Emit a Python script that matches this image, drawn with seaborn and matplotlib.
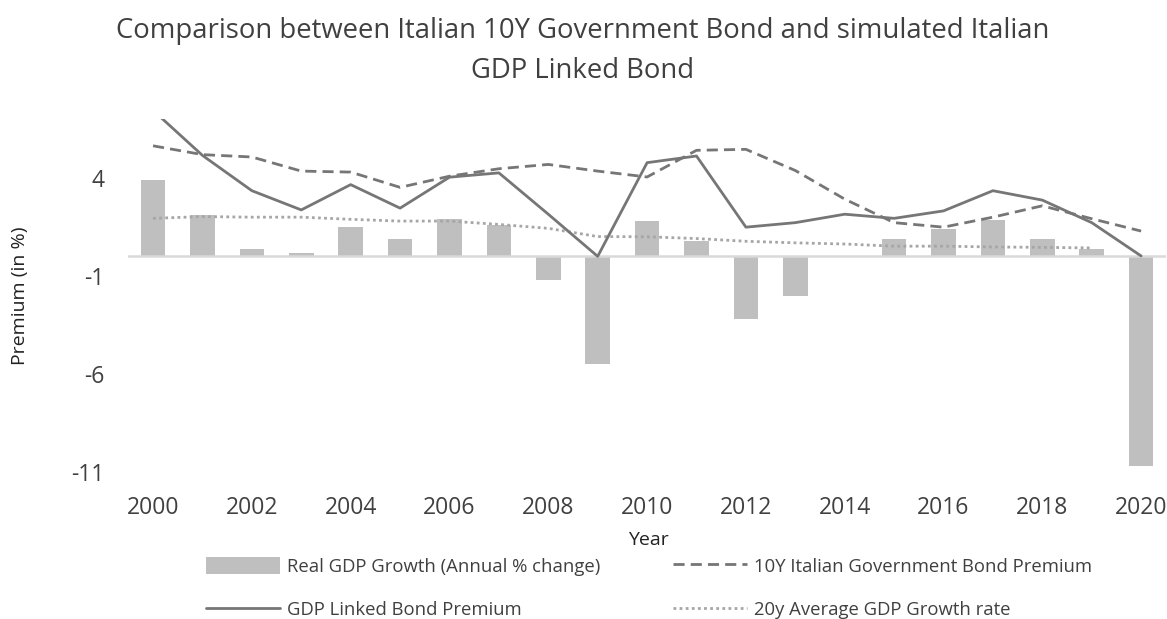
import numpy as np
import pandas as pd
import matplotlib
matplotlib.use("Agg")
import matplotlib.pyplot as plt
import seaborn as sns

# Data series (values in %)
years = list(range(2000, 2021))
real_gdp_growth = [3.9, 2.1, 0.4, 0.15, 1.5, 0.9, 1.9, 1.6, -1.2, -5.5, 1.8,
                   0.8, -3.2, -2.0, 0.0, 0.9, 1.4, 1.85, 0.9, 0.4, -10.7]
btp_10y_premium = [5.64, 5.19, 5.07, 4.35, 4.30, 3.52, 4.09, 4.47, 4.69, 4.35, 4.05,
                   5.41, 5.46, 4.38, 2.92, 1.72, 1.49, 2.00, 2.58, 1.92, 1.29]
gdp_linked_premium = [7.45, 5.15, 3.35, 2.37, 3.66, 2.46, 4.04, 4.26, 2.15, 0.0, 4.78,
                      5.12, 1.49, 1.72, 2.15, 1.94, 2.32, 3.35, 2.87, 1.72, 0.02]
avg_20y_growth = [1.94, 2.03, 2.00, 2.00, 1.89, 1.80, 1.80, 1.63, 1.43, 1.01, 1.00,
                  0.91, 0.77, 0.69, 0.63, 0.52, 0.52, 0.48, 0.46, 0.43, np.nan]
y_ticks = [4, -1, -6, -11]
x_ticks = list(range(2000, 2021, 2))

df = pd.DataFrame({
    "Year": years,
    "gdp": real_gdp_growth,
    "btp": btp_10y_premium,
    "linked": gdp_linked_premium,
    "avg": avg_20y_growth,
})

sns.set_theme(style="white")
plt.rcParams["font.family"] = ["Open Sans", "DejaVu Sans"]

fig = plt.figure(figsize=(11.67, 6.19), dpi=100)
ax = fig.add_axes([0.110, 0.2375, 0.889, 0.570])

bar_c = "#bfbfbf"
line_c = "#767676"
dot_c = "#a6a6a6"

sns.barplot(data=df, x="Year", y="gdp", native_scale=True, width=0.5,
            color=bar_c, saturation=1, ax=ax, label="Real GDP Growth (Annual % change)",
            linewidth=0, zorder=2)
sns.lineplot(data=df, x="Year", y="btp", ax=ax, color=line_c, lw=2.0,
             dashes=False, label="10Y Italian Government Bond Premium", zorder=4)
ax.lines[-1].set_dashes((4, 2.2))
sns.lineplot(data=df, x="Year", y="linked", ax=ax, color=line_c, lw=2.0,
             label="GDP Linked Bond Premium", zorder=5)
sns.lineplot(data=df, x="Year", y="avg", ax=ax, color=dot_c, lw=2.0,
             label="20y Average GDP Growth rate", zorder=3)
ax.lines[-1].set_dashes((1, 1.2))

ax.axhline(0, color="#d9d9d9", lw=1.8, zorder=2.5)

ax.set_xlim(1999.5, 2020.5)
ax.set_ylim(-11, 7)
ax.set_xticks(x_ticks)
ax.set_xticklabels([str(y) for y in x_ticks])
ax.set_yticks(y_ticks)
ax.set_yticklabels([str(v) for v in y_ticks])
ax.tick_params(axis="x", length=0, pad=17, labelsize=16.5, labelcolor="#404040")
ax.tick_params(axis="y", length=0, pad=17, labelsize=16.5, labelcolor="#404040")
ax.set_xlabel("")
ax.set_ylabel("")
for s in ax.spines.values():
    s.set_visible(False)
ax.grid(False)

fig.text(583 / 1167, 1 - 51 / 619,
         "Comparison between Italian 10Y Government Bond and simulated Italian\nGDP Linked Bond",
         ha="center", va="center", fontsize=19.8, color="#404040", linespacing=1.55)
fig.text(20 / 1167, 1 - 296 / 619, "Premium (in %)", rotation=90,
         ha="center", va="center", fontsize=14, color="#222222")
fig.text(648 / 1167, 1 - 540 / 619, "Year", ha="center", va="center",
         fontsize=14, color="#222222")

handles, labels = ax.get_legend_handles_labels()
lookup = dict(zip(labels, handles))
order = ["Real GDP Growth (Annual % change)", "GDP Linked Bond Premium",
         "10Y Italian Government Bond Premium", "20y Average GDP Growth rate"]
ax.get_legend().remove()
leg = fig.legend([lookup[k] for k in order], order, ncol=2, loc="center",
                 bbox_to_anchor=(649 / 1167, 0.050), frameon=False,
                 fontsize=13.3, handlelength=4.0, handletextpad=0.4,
                 columnspacing=3.9, labelspacing=1.35, handleheight=1.0)
for t in leg.get_texts():
    t.set_color("#404040")

fig.savefig("out.png", dpi=100)
